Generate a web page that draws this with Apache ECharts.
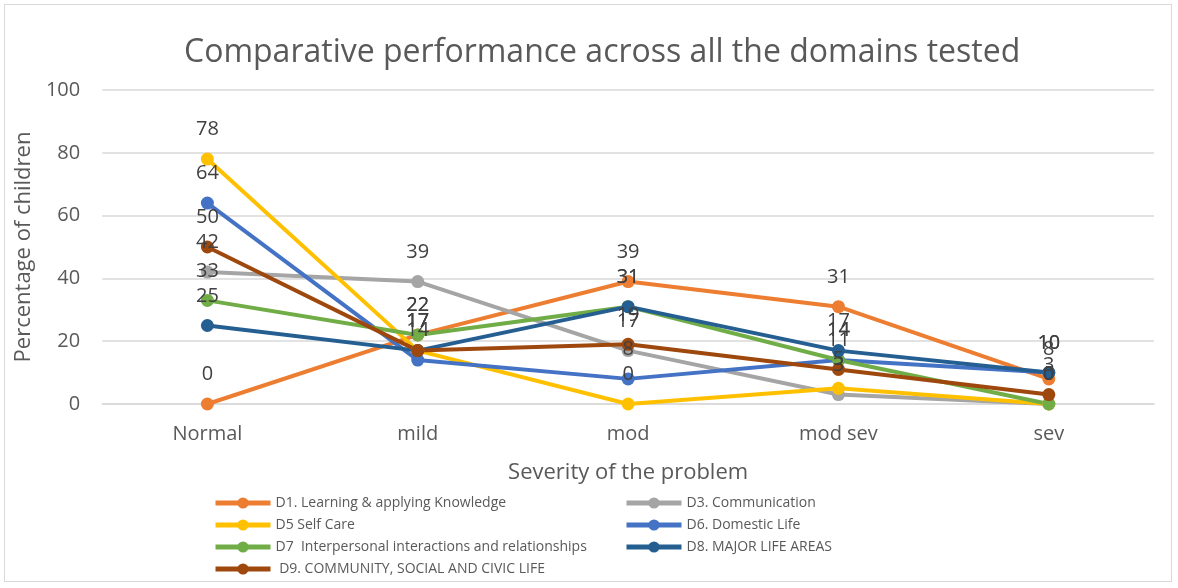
<!DOCTYPE html>
<html>
<head>
<meta charset="utf-8">
<script src="https://cdn.jsdelivr.net/npm/echarts@6/dist/echarts.min.js"></script>
<style>
  html, body { margin: 0; padding: 0; background: #fff; }
  #chart { position: absolute; left: 4px; top: 4px; width: 1168px; height: 578px; border: 1px solid #d9d9d9; box-sizing: border-box; }
</style>
</head>
<body>
<div id="chart"></div>
<script>
var categories = ['Normal', 'mild', 'mod', 'mod sev', 'sev'];
var seriesNames = [
  'D1. Learning & applying Knowledge',
  'D3. Communication',
  'D5 Self Care',
  'D6. Domestic Life',
  'D7  Interpersonal interactions and relationships',
  'D8. MAJOR LIFE AREAS',
  ' D9. COMMUNITY, SOCIAL AND CIVIC LIFE'
];
var d1 = [0, 22, 39, 31, 8];
var d3 = [42, 39, 17, 3, 0];
var d5 = [78, 17, 0, 5, 0];
var d6 = [64, 14, 8, 14, 10];
var d7 = [33, 22, 31, 14, 0];
var d8 = [25, 17, 31, 17, 10];
var d9 = [50, 17, 19, 11, 3];
var colors = ['#ED7D31', '#A5A5A5', '#FFC000', '#4472C4', '#70AD47', '#255E91', '#9E480E'];
var values = [d1, d3, d5, d6, d7, d8, d9];

var chart = echarts.init(document.getElementById('chart'));

var series = values.map(function (v, i) {
  return {
    name: seriesNames[i],
    type: 'line',
    data: v,
    symbol: 'circle',
    symbolSize: 13,
    lineStyle: { width: 4, color: colors[i] },
    itemStyle: { color: colors[i] },
    label: {
      show: true,
      position: 'top',
      distance: 13,
      fontSize: 20,
      color: '#404040',
      fontFamily: 'Open Sans'
    }
  };
});

var legendText = { fontSize: 14, color: '#595959', fontFamily: 'Open Sans' };

chart.setOption({
  color: colors,
  title: {
    text: 'Comparative performance across all the domains tested',
    left: 174,
    top: 27,
    textStyle: { fontSize: 32, fontWeight: 'normal', color: '#595959', fontFamily: 'Open Sans' }
  },
  grid: { left: 97, right: 17, top: 85, height: 314 },
  xAxis: {
    type: 'category',
    data: categories,
    name: 'Severity of the problem',
    nameLocation: 'middle',
    nameGap: 58,
    nameTextStyle: { fontSize: 22, color: '#595959', fontFamily: 'Open Sans' },
    axisLine: { lineStyle: { color: '#d9d9d9', width: 1.5 } },
    axisTick: { show: false },
    axisLabel: { fontSize: 20, color: '#595959', margin: 20, fontFamily: 'Open Sans' }
  },
  yAxis: {
    type: 'value',
    min: 0,
    max: 100,
    interval: 20,
    name: 'Percentage of children',
    nameLocation: 'middle',
    nameGap: 50,
    nameTextStyle: { fontSize: 22, color: '#595959', fontFamily: 'Open Sans' },
    axisLine: { show: false },
    axisTick: { show: false },
    splitLine: { lineStyle: { color: '#d9d9d9', width: 1.5 } },
    axisLabel: { fontSize: 20, color: '#595959', margin: 22, fontFamily: 'Open Sans' }
  },
  legend: [
    {
      orient: 'vertical',
      left: 208,
      top: 491,
      height: 90,
      padding: 0,
      itemWidth: 55,
      itemHeight: 14,
      itemGap: 8,
      lineStyle: { width: 5 },
      textStyle: legendText,
      data: [seriesNames[0], seriesNames[2], seriesNames[4], seriesNames[6]]
    },
    {
      orient: 'vertical',
      left: 619,
      top: 491,
      height: 90,
      padding: 0,
      itemWidth: 55,
      itemHeight: 14,
      itemGap: 8,
      lineStyle: { width: 5 },
      textStyle: legendText,
      data: [seriesNames[1], seriesNames[3], seriesNames[5]]
    }
  ],
  series: series
});
</script>
</body>
</html>
